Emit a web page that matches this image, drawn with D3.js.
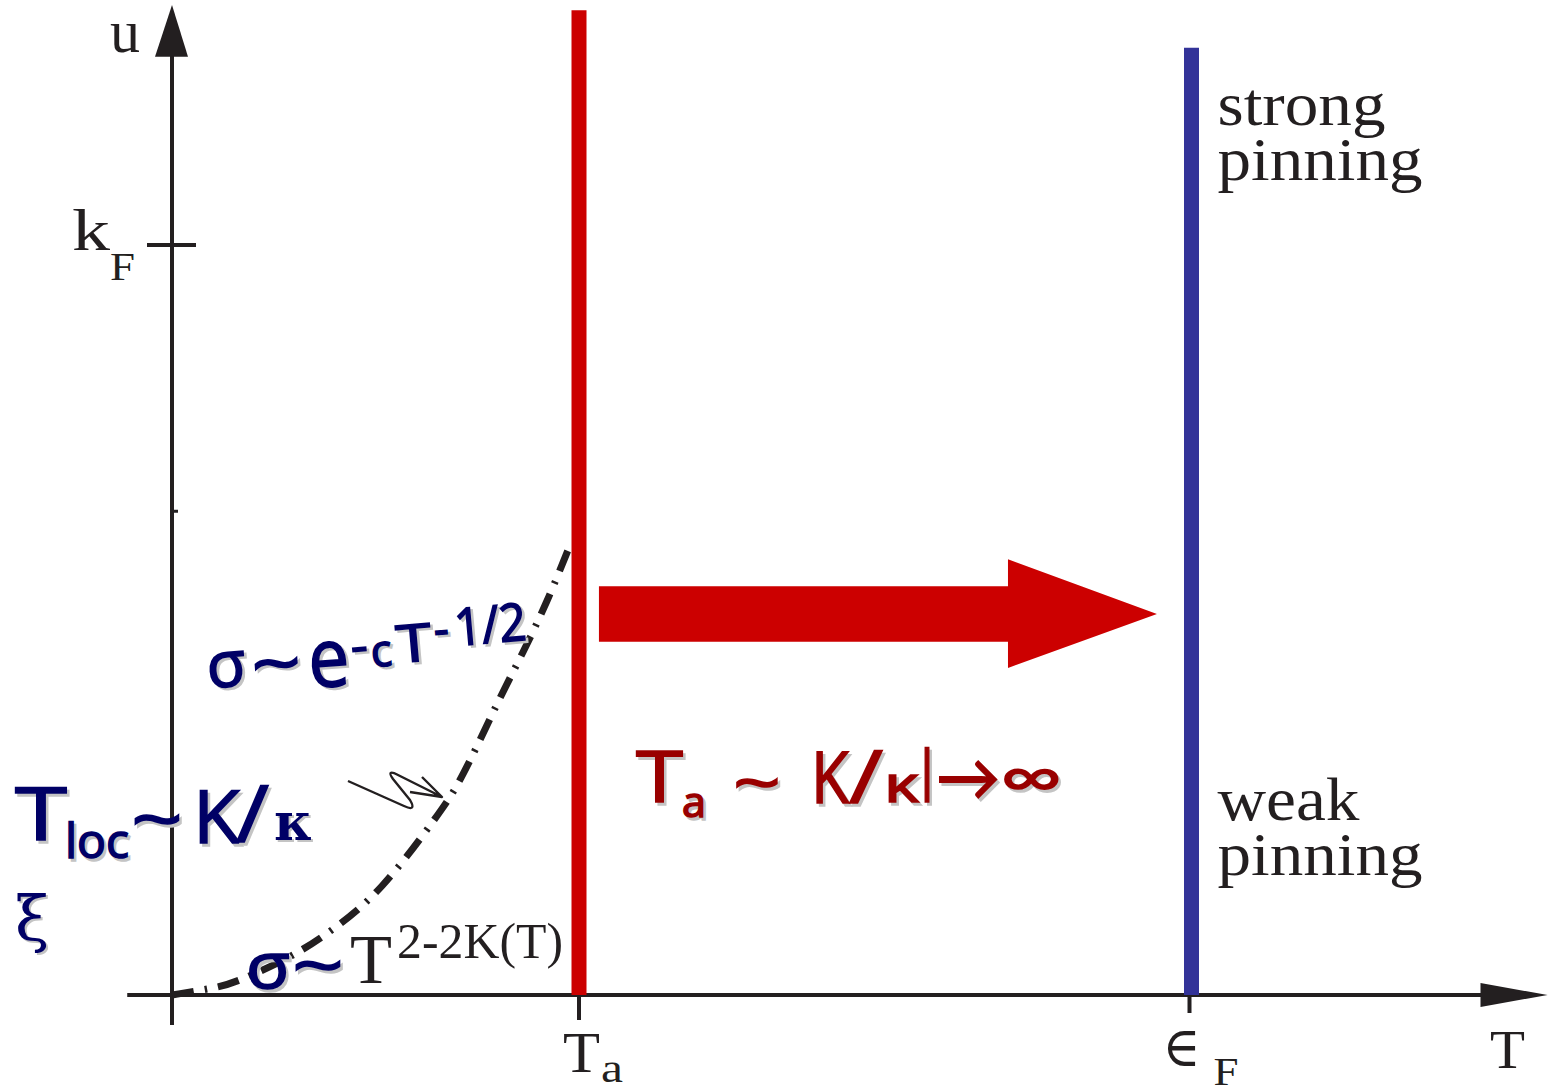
<!DOCTYPE html>
<head>
  <meta charset="UTF-8">
  <title>pinning</title>
  <style>
  body, html, svg{
    padding: 0;
    margin: 0;
  }
  body{
    background: #fff;
  }
  .serif{
    font-family: "Liberation Serif", "DejaVu Serif", serif;
    fill: #231f20;
  }
  .hand{
    font-family: "Open Sans", "Lato", sans-serif;
    font-weight: normal;
  }
  </style>
</head>
<body>
  <script src="https://cdn.jsdelivr.net/npm/d3@7"></script>
  <script type="text/javascript">
  // data (T in units of Ta, u in units of kF)
  var T_A = 1;
  var E_F = 2.5;
  var KF = 1;
  var curveT = [0, 0.10, 0.15, 0.297, 0.396, 0.511, 0.658, 0.700, 0.757, 0.806, 0.862, 0.921, 0.978];
  var curveU = [0, 0.009, 0.015, 0.051, 0.087, 0.136, 0.243, 0.277, 0.340, 0.397, 0.456, 0.523, 0.600];
  var arrowT = [1.049, 2.054, 2.42];          // shaft start, head base, tip
  var arrowU = [0.545, 0.471, 0.581, 0.436];  // shaft top/bottom, head top/bottom
  var redTop = 1.313;
  var blueTop = 1.263;

  var width = 1553, height = 1088;
  var svg = d3.select('body').append('svg')
    .attr('width', width)
    .attr('height', height);

  var x = d3.scaleLinear().domain([0, 1]).range([172, 579]);
  var y = d3.scaleLinear().domain([0, 1]).range([995, 245]);

  var ink = '#231f20';

  // x axis
  svg.append('line')
    .attr('x1', x(-0.11)).attr('x2', x(3.32))
    .attr('y1', y(0)).attr('y2', y(0))
    .attr('stroke', ink).attr('stroke-width', 4);
  svg.append('path')
    .attr('d', 'M' + x(3.38) + ',' + y(0) + 'L' + x(3.215) + ',' + (y(0) - 12) + 'L' + x(3.215) + ',' + (y(0) + 12) + 'Z')
    .attr('fill', ink);

  // y axis
  svg.append('line')
    .attr('x1', x(0)).attr('x2', x(0))
    .attr('y1', y(-0.04)).attr('y2', y(1.26))
    .attr('stroke', ink).attr('stroke-width', 4);
  svg.append('path')
    .attr('d', 'M' + x(0) + ',' + y(1.32) + 'L' + (x(0) - 17) + ',' + y(1.251) + 'L' + (x(0) + 16) + ',' + y(1.251) + 'Z')
    .attr('fill', ink);

  // ticks
  svg.append('line')
    .attr('x1', x(0) - 25).attr('x2', x(0) + 24)
    .attr('y1', y(KF)).attr('y2', y(KF))
    .attr('stroke', ink).attr('stroke-width', 4);
  svg.append('line')
    .attr('x1', x(0)).attr('x2', x(0) + 6)
    .attr('y1', y(0.645)).attr('y2', y(0.645))
    .attr('stroke', ink).attr('stroke-width', 3);
  svg.append('line')
    .attr('x1', x(T_A)).attr('x2', x(T_A))
    .attr('y1', y(0)).attr('y2', y(0) + 25)
    .attr('stroke', ink).attr('stroke-width', 4);
  svg.append('line')
    .attr('x1', x(E_F)).attr('x2', x(E_F))
    .attr('y1', y(0)).attr('y2', y(0) + 18)
    .attr('stroke', ink).attr('stroke-width', 4);

  // crossover curve
  var pts = curveT.map(function(t, i) { return [t, curveU[i]]; });
  var line = d3.line()
    .x(function(d) { return x(d[0]); })
    .y(function(d) { return y(d[1]); })
    .curve(d3.curveBasis);
  svg.append('path')
    .attr('d', line(pts))
    .attr('fill', 'none')
    .attr('stroke', ink)
    .attr('stroke-width', 7)
    .attr('stroke-dasharray', '22,11,2.5,11');

  // squiggle pointer
  svg.append('path')
    .attr('d', 'M348,781 L404,806 Q417,812 410,800 L393,779 Q386,769 398,775 L442,797 M422,777 L442,797 L410,792')
    .attr('fill', 'none')
    .attr('stroke', ink)
    .attr('stroke-width', 2.4)
    .attr('stroke-linejoin', 'round');

  // vertical lines
  svg.append('line')
    .attr('x1', x(T_A)).attr('x2', x(T_A))
    .attr('y1', y(0)).attr('y2', y(redTop))
    .attr('stroke', '#cc0000').attr('stroke-width', 15);
  svg.append('line')
    .attr('x1', x(E_F) + 2).attr('x2', x(E_F) + 2)
    .attr('y1', y(0)).attr('y2', y(blueTop))
    .attr('stroke', '#333399').attr('stroke-width', 15);

  // big red arrow
  var arr = [
    [arrowT[0], arrowU[0]], [arrowT[1], arrowU[0]], [arrowT[1], arrowU[2]],
    [arrowT[2], (arrowU[0] + arrowU[1]) / 2],
    [arrowT[1], arrowU[3]], [arrowT[1], arrowU[1]], [arrowT[0], arrowU[1]]
  ];
  svg.append('path')
    .attr('d', d3.line().x(function(d) { return x(d[0]); }).y(function(d) { return y(d[1]); })(arr) + 'Z')
    .attr('fill', '#cc0000');

  // serif labels
  function serif(t, px, py, size, w) {
    var el = svg.append('text').attr('class', 'serif')
      .attr('x', px).attr('y', py)
      .style('font-size', size + 'px')
      .text(t);
    if (w) el.attr('textLength', w).attr('lengthAdjust', 'spacingAndGlyphs');
    return el;
  }
  serif('u', x(0) - 62, 52, 62, 30);
  serif('k', x(0) - 100, y(KF) + 5, 60, 38);
  serif('F', x(0) - 62, y(KF) + 35, 40, 25);
  serif('T', x(T_A) - 16, 1072, 56, 37);
  serif('a', x(T_A) + 22, 1082, 40, 22);
  serif('\u2208', x(E_F) - 27, 1066, 56, 38).style('font-family', '"DejaVu Serif", serif');
  serif('F', x(E_F) + 24, 1085, 40, 25);
  serif('T', 1490, 1068, 54, 35);
  serif('strong', x(E_F) + 28, 125, 62, 168);
  serif('pinning', x(E_F) + 28, 180, 62, 205);
  serif('weak', x(E_F) + 28, 820, 62, 142);
  serif('pinning', x(E_F) + 28, 875, 62, 205);
  serif('T', 350, 983, 70, 42);
  serif('2-2K(T)', 397, 958, 50, 166);

  // handwritten labels with soft shadow
  function hand(t, px, py, size, w, col, rot) {
    [['#c4c4c4', 2.5], [col, 0]].forEach(function(c) {
      var el = svg.append('text').attr('class', 'hand')
        .attr('x', px + c[1]).attr('y', py + c[1])
        .style('font-size', size + 'px')
        .attr('fill', c[0])
        .attr('stroke', c[0])
        .attr('stroke-width', 1.6)
        .text(t);
      if (w) el.attr('textLength', w).attr('lengthAdjust', 'spacingAndGlyphs');
      if (rot) el.attr('transform', 'rotate(' + rot + ',' + px + ',' + py + ')');
    });
  }
  var navy = '#000066';
  // sigma ~ exp
  hand('\u03c3', 208, 688, 64, 39, navy, -4);
  hand('~', 253, 690, 70, 50, navy, -4);
  hand('e', 310, 688, 82, 41, navy, -4);
  hand('-', 352, 663, 48, 17, navy, -5);
  hand('c', 372, 667, 44, 21, navy, -5);
  hand('T', 398, 663, 52, 35, navy, -5);
  hand('-', 435, 646, 48, 15, navy, -5);
  hand('1/2', 456, 646, 52, 72, navy, -5);
  // T_loc ~ K/kappa
  hand('T', 15, 840, 74, 52, navy);
  hand('loc', 65, 858, 48, 64, navy);
  hand('~', 131, 845, 74, 52, navy);
  hand('K', 193, 843, 74, 47, navy);
  hand('/', 236, 842, 78, 33, navy);
  [['#c4c4c4', 2], [navy, 0]].forEach(function(c) {
    svg.append('text').attr('x', 274 + c[1]).attr('y', 840 + c[1]).attr('fill', c[0])
      .style('font', 'bold 52px "DejaVu Serif", serif').text('\u03ba');
    svg.append('text').attr('x', 15 + c[1]).attr('y', 940 + c[1]).attr('fill', c[0])
      .style('font', '62px "DejaVu Serif", serif').text('\u03be');
  });
  // sigma ~ T^...
  hand('\u03c3', 246, 988, 64, 44, navy);
  hand('~', 292, 990, 70, 52, navy);

  // Ta ~ K/kappa l -> inf
  var dred = '#990000';
  hand('T', 636, 802, 72, 47, dred);
  hand('a', 682, 817, 42, 24, dred);
  hand('~', 733, 806, 64, 48, dred);
  hand('K', 811, 803, 72, 38, dred);
  hand('/', 849, 803, 74, 34, dred);
  hand('\u03ba', 884, 802, 50, 35, dred);
  hand('l', 921, 802, 72, 12, dred);
  hand('\u2192', 936, 800, 64, 64, dred);
  hand('\u221e', 1000, 802, 64, 62, dred);
  </script>
</body>
</html>
